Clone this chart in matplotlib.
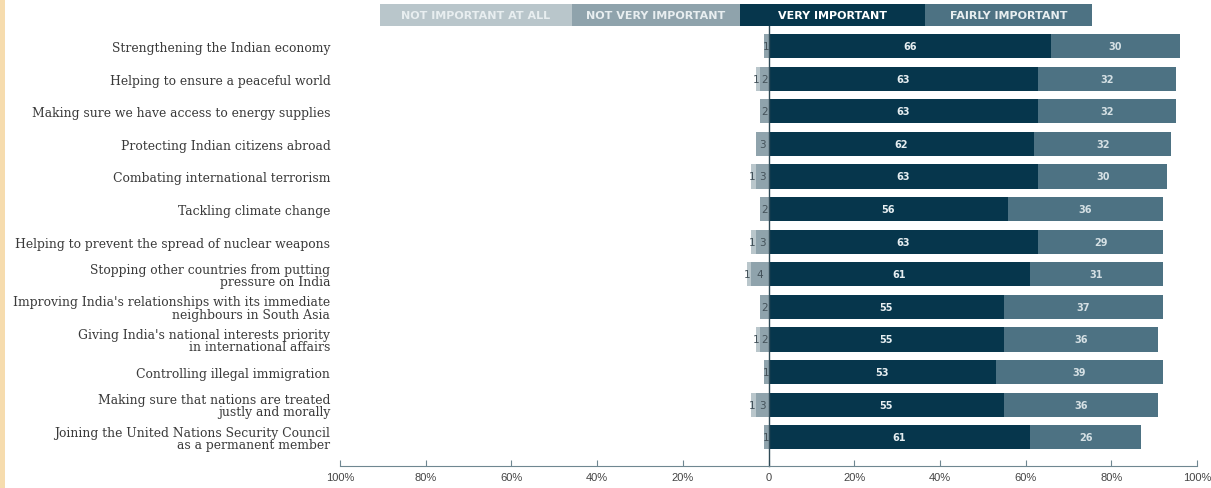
import numpy as np
import matplotlib.pyplot as plt
import matplotlib.patches as patches

# data
categories = [
    "Strengthening the Indian economy",
    "Helping to ensure a peaceful world",
    "Making sure we have access to energy supplies",
    "Protecting Indian citizens abroad",
    "Combating international terrorism",
    "Tackling climate change",
    "Helping to prevent the spread of nuclear weapons",
    "Stopping other countries from putting\npressure on India",
    "Improving India's relationships with its immediate\nneighbours in South Asia",
    "Giving India's national interests priority\nin international affairs",
    "Controlling illegal immigration",
    "Making sure that nations are treated\njustly and morally",
    "Joining the United Nations Security Council\nas a permanent member",
]
very = [66, 63, 63, 62, 63, 56, 63, 61, 55, 55, 53, 55, 61]
fairly = [30, 32, 32, 32, 30, 36, 29, 31, 37, 36, 39, 36, 26]
not_very = [1, 2, 2, 3, 3, 2, 3, 4, 2, 2, 1, 3, 1]
not_all = [0, 1, 0, 0, 1, 0, 1, 1, 0, 1, 0, 1, 0]
legend_labels = ["NOT IMPORTANT AT ALL", "NOT VERY IMPORTANT", "VERY IMPORTANT", "FAIRLY IMPORTANT"]
ticks = [-100, -80, -60, -40, -20, 0, 20, 40, 60, 80, 100]
tick_labels = ["100%", "80%", "60%", "40%", "20%", "0", "20%", "40%", "60%", "80%", "100%"]

c_all = "#b9c6cb"
c_notvery = "#8fa3ac"
c_very = "#06364c"
c_fairly = "#4d7283"

W, H = 1211, 489
fig = plt.figure(figsize=(W / 100, H / 100), dpi=100)
ax = fig.add_axes([340 / W, 1 - 467 / H, 857 / W, (467 - 30.7) / H])

y = np.arange(len(categories))
very = np.array(very)
fairly = np.array(fairly)
not_very = np.array(not_very)
not_all = np.array(not_all)
bh = 0.74

ax.barh(y, very, height=bh, color=c_very)
ax.barh(y, fairly, left=very, height=bh, color=c_fairly)
ax.barh(y, -not_very, height=bh, color=c_notvery)
ax.barh(y, -not_all, left=-not_very, height=bh, color=c_all)

num_font = "DejaVu Sans"
for i in range(len(y)):
    ax.text(very[i] / 2, y[i], str(very[i]), ha="center", va="center",
            color="#e6eef1", fontsize=7, fontweight="bold", family=num_font)
    ax.text(very[i] + fairly[i] / 2, y[i], str(fairly[i]), ha="center", va="center",
            color="#d5e0e4", fontsize=7, fontweight="bold", family=num_font)
    ax.text(-not_very[i] / 2, y[i], str(not_very[i]), ha="center", va="center",
            color="#44525a", fontsize=7.5, family=num_font)
    if not_all[i] > 0:
        ax.text(-not_very[i] - not_all[i] / 2 - 0.4, y[i], str(not_all[i]), ha="center", va="center",
                color="#44525a", fontsize=7.5, family=num_font)

ax.set_xlim(-100, 100)
ax.set_ylim(12.88, -0.5)
ax.set_yticks(y)
ax.set_yticklabels(categories, family="DejaVu Serif", fontsize=8.9, color="#3a3a3a",
                   linespacing=0.92)
ax.tick_params(axis="y", length=0, pad=7)
ax.set_xticks(ticks)
ax.set_xticklabels(tick_labels, family="Liberation Sans", fontsize=8, color="#444444")
ax.tick_params(axis="x", direction="in", length=4, color="#6f8791", pad=4)
for s in ["top", "right", "left"]:
    ax.spines[s].set_visible(False)
ax.spines["bottom"].set_color("#6f8791")
ax.axvline(0, ymin=0, ymax=1.01, color="#2f4a56", lw=1, clip_on=False)

# legend strip across the top
legend_x = [380, 572, 740, 925, 1092]
legend_c = [c_all, c_notvery, c_very, c_fairly]
legend_tc = ["#e8eef0", "#e8eef0", "#ffffff", "#e8eef0"]
for k in range(4):
    x0 = legend_x[k]
    x1 = legend_x[k + 1]
    fig.add_artist(patches.Rectangle((x0 / W, 1 - 27 / H), (x1 - x0) / W, 22 / H,
                                     transform=fig.transFigure, color=legend_c[k], lw=0))
    fig.text((x0 + x1) / 2 / W, 1 - 16 / H, legend_labels[k], ha="center", va="center",
             color=legend_tc[k], fontsize=8, fontweight="bold", family="DejaVu Sans")

# faint orange margin on the left edge
fig.add_artist(patches.Rectangle((0, 0), 5 / W, 1, transform=fig.transFigure,
                                 color="#f6dcae", lw=0))

fig.savefig("out.png", dpi=100)
